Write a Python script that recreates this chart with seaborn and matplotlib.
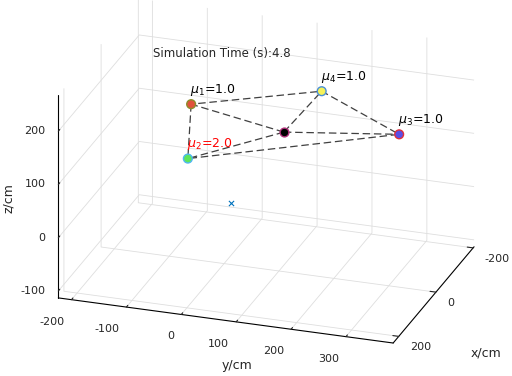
import numpy as np
import matplotlib
matplotlib.use("Agg")
import matplotlib.pyplot as plt
import seaborn as sns
from mpl_toolkits.mplot3d import proj3d

# anchor positions (cm) and weights
anchor_labels = ["$\\mu_1$=1.0", "$\\mu_2$=2.0", "$\\mu_3$=1.0", "$\\mu_4$=1.0"]
anchor_x = [0, 0, 0, -150]
anchor_y = [-60, -66, 319, 127]
anchor_z = [178, 75, 174, 166]
anchor_fill = ["#e0523c", "#5ee65a", "#5a4ee6", "#f5f25a"]
anchor_edge = ["#8c8c2a", "#4fb8f0", "#e0303c", "#4a90d8"]
label_colors = ["black", "red", "black", "black"]

# estimated position and true position
est_x, est_y, est_z = [0], [109], [149]
true_x, true_y, true_z = [0], [12], [2]
sim_time = 4.8

# axis limits / ticks
x_lim = (-205, 230)
y_lim = (-224, 386)
z_lim = (-113, 268)
x_ticks = [-200, 0, 200]
y_ticks = [-200, -100, 0, 100, 200, 300]
z_ticks = [-100, 0, 100, 200]

sns.set_style("white")
plt.rcParams["font.family"] = ["DejaVu Sans"]
plt.rcParams["font.size"] = 8

fig = plt.figure(figsize=(5.12, 3.76), dpi=100)
ax = fig.add_axes([0.01, 0.032, 1, 1], projection="3d", proj_type="ortho")
ax.view_init(elev=23.6, azim=18.6)
ax.set_box_aspect((252, 351, 220), zoom=1.26)

ax.set_xlim(*x_lim)
ax.set_ylim(*y_lim)
ax.set_zlim(*z_lim)
ax.set_xticks(x_ticks)
ax.set_yticks(y_ticks)
ax.set_zticks(z_ticks)
ax.set_xticklabels([])
ax.set_yticklabels([])
ax.set_zticklabels([])

for axis in (ax.xaxis, ax.yaxis, ax.zaxis):
    axis.set_pane_color((1, 1, 1, 0))
    axis.pane.set_edgecolor((0.85, 0.85, 0.85))
    axis._axinfo["grid"]["color"] = (0.87, 0.87, 0.87, 1)
    axis._axinfo["grid"]["linewidth"] = 0.6
    axis._axinfo["tick"]["inward_factor"] = 0.0
    axis._axinfo["tick"]["outward_factor"] = 0.22
    axis.line.set_color("black")
    axis.line.set_linewidth(0.8)
    axis.label.set_visible(False)
    axis.offsetText.set_visible(False)
ax.grid(True)
ax.tick_params(colors="#262626", width=0.8)

# dashed links: polygon through anchors plus estimate to each anchor
order = [0, 1, 2, 3, 0]
ax.plot([anchor_x[i] for i in order], [anchor_y[i] for i in order],
        [anchor_z[i] for i in order], ls=(0, (6, 3)), color="#404040", lw=0.9)
for i in range(4):
    ax.plot([est_x[0], anchor_x[i]], [est_y[0], anchor_y[i]], [est_z[0], anchor_z[i]],
            ls=(0, (6, 3)), color="#404040", lw=0.9)

ax.scatter(anchor_x, anchor_y, anchor_z, s=40, c=anchor_fill, edgecolors=anchor_edge,
           linewidths=1.0, depthshade=False, zorder=5)
ax.scatter(est_x, est_y, est_z, s=40, c="black", edgecolors="#b0307a",
           linewidths=1.0, depthshade=False)
ax.scatter(true_x, true_y, true_z, s=14, marker="x", c="#0072bd",
           linewidths=0.8, depthshade=False)

for i in range(4):
    ax.text(anchor_x[i], anchor_y[i] - 2, anchor_z[i] + 12, anchor_labels[i],
            color=label_colors[i], fontsize=9, ha="left", va="bottom")

fig.text(153 / 512, 1 - 53 / 376, "Simulation Time (s):%.1f" % sim_time,
         fontsize=8.5, va="center")

# tick labels placed MATLAB-style next to the projected tick positions
fig.canvas.draw()
M = ax.get_proj()
to_fig = fig.transFigure.inverted()


def tick_text(x, y, z, s, dx, dy, **kw):
    px, py, _ = proj3d.proj_transform(x, y, z, M)
    disp = ax.transData.transform((px, py))
    fx, fy = to_fig.transform((disp[0] + dx, disp[1] + dy))
    fig.text(fx, fy, s, fontsize=8, color="#262626", **kw)


for t in y_ticks:
    tick_text(x_lim[1], t, z_lim[0], str(t), -7, -17, ha="right", va="top")
for t in x_ticks:
    tick_text(t, y_lim[1], z_lim[0], str(t), 11, -11, ha="left", va="center")
for t in z_ticks:
    tick_text(x_lim[1], y_lim[0], t, str(t), -13, 0, ha="right", va="center")

fig.text(237 / 512, 1 - 365 / 376, "y/cm", fontsize=9, ha="center", va="center")
fig.text(486 / 512, 1 - 353 / 376, "x/cm", fontsize=9, ha="center", va="center")
fig.text(8 / 512, 1 - 198 / 376, "z/cm", fontsize=9, ha="center", va="center",
         rotation=90)

fig.savefig("out.png", dpi=100)
